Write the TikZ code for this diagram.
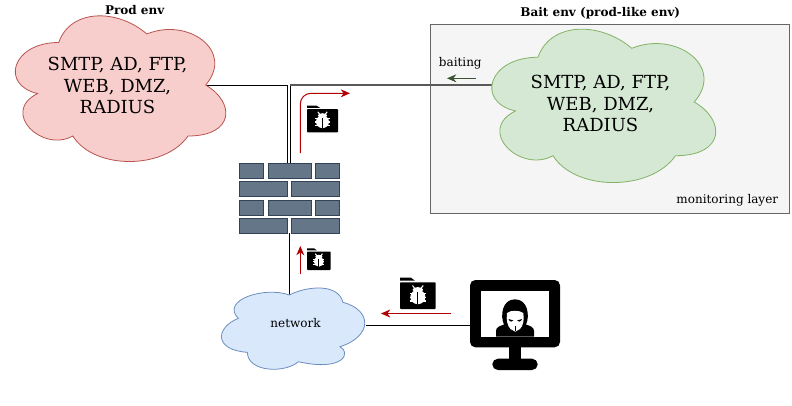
\documentclass[tikz,border=0pt]{standalone}
\usepackage{fontspec}
\setmainfont{DejaVu Serif}
\definecolor{prodfill}{HTML}{F8CECC}\definecolor{prodline}{HTML}{B85450}
\definecolor{baitfill}{HTML}{D5E8D4}\definecolor{baitline}{HTML}{82B366}
\definecolor{netfill}{HTML}{DAE8FC}\definecolor{netline}{HTML}{6C8EBF}
\definecolor{brickfill}{HTML}{647687}\definecolor{brickline}{HTML}{314354}
\definecolor{redarrow}{HTML}{B20000}\definecolor{greenarrow}{HTML}{3A5431}
\definecolor{boxfill}{HTML}{F5F5F5}\definecolor{boxline}{HTML}{666666}
\newcommand{\cloudpath}[4]{
 ({#1+.25*#3},{#2+.25*#4})
 .. controls ({#1+.05*#3},{#2+.25*#4}) and ({#1},{#2+.5*#4}) .. ({#1+.16*#3},{#2+.55*#4})
 .. controls ({#1},{#2+.66*#4}) and ({#1+.18*#3},{#2+.9*#4}) .. ({#1+.31*#3},{#2+.8*#4})
 .. controls ({#1+.4*#3},{#2+#4}) and ({#1+.7*#3},{#2+#4}) .. ({#1+.8*#3},{#2+.8*#4})
 .. controls ({#1+#3},{#2+.8*#4}) and ({#1+#3},{#2+.6*#4}) .. ({#1+.875*#3},{#2+.5*#4})
 .. controls ({#1+#3},{#2+.3*#4}) and ({#1+.8*#3},{#2+.1*#4}) .. ({#1+.625*#3},{#2+.2*#4})
 .. controls ({#1+.5*#3},{#2+.05*#4}) and ({#1+.3*#3},{#2+.05*#4}) .. cycle}
% body box x y w h, tab height th
\newcommand{\bugfolder}[5]{
 \begin{scope}[shift={(#1,#2)},xscale=#3/100,yscale=#4/100]
  \fill[black,rounded corners=0.6pt] (0,0) rectangle (100,100);
  \fill[black] (0,{-#5}) -- (30,{-#5}) -- (42,{-#5/3}) -- (0,{-#5/3}) -- cycle;
  \draw[white,line width=.8pt] (35,12) -- (43,26) (65,12) -- (57,26);
  \fill[white] (50,28) ellipse (15 and 10);
  \fill[white] (50,55) ellipse (21 and 27);
  \draw[white,line width=.9pt] (27,42) -- (73,42) (27,56) -- (73,56) (27,70) -- (73,70);
  \draw[black,line width=.6pt] (50,38) -- (50,82);
 \end{scope}}
\tikzset{
 x=0.75pt,y=-0.75pt,
 brick/.style={fill=brickfill,draw=brickline,line width=.6pt},
 wire/.style={draw=black,line width=.75pt},
 baitwire/.style={draw=black!65,line width=.85pt},
 flow/.style={draw=redarrow,line width=.75pt,-{Stealth[length=7pt,width=6pt]}},
 lbl/.style={font=\fontsize{9}{11}\selectfont,text=black,inner sep=0pt},
 title/.style={font=\fontsize{9}{11}\selectfont\bfseries,text=black,inner sep=0pt},
 bigtext/.style={font=\fontsize{13.5}{16.1}\selectfont,align=center,text=black,inner sep=0pt},
}
\usetikzlibrary{arrows.meta}
\begin{document}
\begin{tikzpicture}
\useasboundingbox (0,0) rectangle (792,405);
\fill[white] (0,0) rectangle (792,405);

% named anchor points
\coordinate (prodport) at (205.7,85.3);
\coordinate (baitport) at (491.5,85);
\coordinate (fwtopa) at (287.6,163);
\coordinate (fwtopb) at (290.3,163);
\coordinate (fwbottom) at (289.5,233);
\coordinate (nettop) at (289.5,295);
\coordinate (netright) at (366,325);
\coordinate (monleft) at (470,325);
\coordinate (bendA) at (287.6,85.3);
\coordinate (bendB) at (290.3,85);

% connectors
\draw[wire] (prodport) -- (bendA) -- (fwtopa);
\draw[wire] (bendB) -- (fwtopb);
\draw[wire] (fwbottom) -- (nettop);
\draw[wire] (netright) -- (monleft);

% bait box
\node[draw=boxline,fill=boxfill,line width=.75pt,minimum width=269.5pt,minimum height=142pt,inner sep=0pt,anchor=north west] (baitbox) at (430,23.5) {};
\draw[baitwire] (baitport) -- (bendB);

% clouds
\fill[prodfill] \cloudpath{0}{0}{235}{170};
\draw[prodline,line width=.6pt] \cloudpath{0}{0}{235}{170};
\fill[baitfill] \cloudpath{475.5}{12.5}{250}{179};
\draw[baitline,line width=.6pt] \cloudpath{475.5}{12.5}{250}{179};
\path[fill=netfill,draw=netline,line width=.6pt]
 (289.3,295) .. controls (307,286) and (338,283) .. (343,302.3)
 .. controls (372,310) and (373,336) .. (340,346.7)
 .. controls (351,352) and (345,372) .. (298.3,361.7)
 .. controls (286,373) and (248,373) .. (247.3,352.3)
 .. controls (214,350) and (215,328) .. (238.3,318.3)
 .. controls (220,300) and (265,286) .. cycle;

\node[bigtext] (prodtext) at (117.5,85.5) {SMTP, AD, FTP,\\WEB, DMZ,\\RADIUS};
\node[bigtext] (baittext) at (600.5,103.5) {SMTP, AD, FTP,\\WEB, DMZ,\\RADIUS};
\node[lbl] (nettext) at (295.5,323.5) {network};

% titles and labels
\node[title] (prodtitle) at (134.7,10) {Prod env};
\node[title] (baittitle) at (600.3,13.5) {Bait env (prod-like env)};
\node[lbl] (baitlabel) at (460.3,63.5) {baiting};
\node[lbl] (monlabel) at (727.3,200.5) {monitoring layer};

% firewall
\path[brick] (239,163.5) rectangle (263.5,178.5);
\path[brick] (268,163.5) rectangle (311,178.5);
\path[brick] (315,163.5) rectangle (339.5,178.5);
\path[brick] (239,181.7) rectangle (287.5,196.7);
\path[brick] (291.5,181.7) rectangle (339.5,196.7);
\path[brick] (239,200) rectangle (263.5,215);
\path[brick] (268,200) rectangle (311,215);
\path[brick] (315,200) rectangle (339.5,215);
\path[brick] (239,218.3) rectangle (287.5,233.3);
\path[brick] (291.5,218.3) rectangle (339.5,233.3);

% red flows
\coordinate (fA) at (300.3,153);
\coordinate (fB) at (300.3,93.3);
\coordinate (fC) at (350,93.3);
\draw[flow,rounded corners=8pt] (fA) -- (fB) -- (fC);
\coordinate (gA) at (300.3,273.5);
\coordinate (gB) at (300.3,246);
\draw[flow] (gA) -- (gB);
\coordinate (hA) at (451,313.5);
\coordinate (hB) at (381,313.5);
\draw[flow] (hA) -- (hB);
\coordinate (bA) at (476,78.3);
\coordinate (bB) at (447,78.3);
\draw[draw=greenarrow,line width=.75pt,-{Stealth[length=7pt,width=6pt]}] (bA) -- (bB);

% folders
\bugfolder{307}{109}{31}{23.3}{15}
\bugfolder{307}{251.5}{23.7}{18.5}{17}
\bugfolder{400}{282.3}{35.7}{26.7}{18}

% monitor
\fill[black,rounded corners=4pt] (470,280) rectangle (560,347.3);
\fill[white] (481,291) rectangle (549,336.7);
\fill[black] (509.3,347) rectangle (520.7,360);
\fill[black,rounded corners=4.2pt] (492.3,358.7) rectangle (537.7,370);
% hooded figure
\fill[black] (496,336.7) -- (496,331) .. controls (496,327) and (500,326) .. (504,324.5)
 .. controls (500,316) and (502,299.3) .. (515,299.3)
 .. controls (528,299.3) and (530,316) .. (526,324.5)
 .. controls (530,326) and (534,327) .. (534,331) -- (534,336.7) -- cycle;
\fill[white] (507,313) .. controls (510,310) and (520,310) .. (523.3,313)
 .. controls (524.5,320) and (523,326) .. (520,329) -- (515.3,331.7) -- (510.5,329)
 .. controls (507.5,326) and (506,320) .. cycle;
\fill[black] (508.5,319) -- (513.5,320.5) .. controls (512.5,322.5) and (509.5,322) .. cycle;
\fill[black] (522,319) -- (517,320.5) .. controls (518,322.5) and (521,322) .. cycle;
\draw[black,line width=.3pt] (515.3,326) -- (515.3,331);
\end{tikzpicture}
\end{document}
